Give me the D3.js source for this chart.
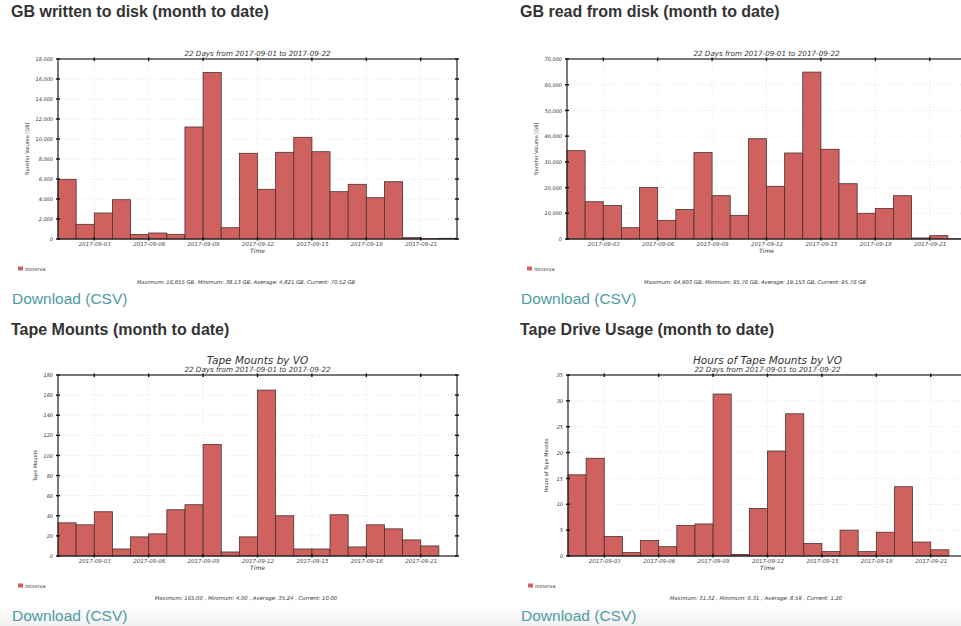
<!doctype html>
<html lang="en">
<head>
  <meta charset="utf-8">
  <title>Storage month to date</title>

<style>
 body{
   margin: 0;
   background-color: #fff;
 }
 .sec-title{
   font-family: "Liberation Sans", Arial, sans-serif;
   font-weight: bold;
   font-size: 16px;
   fill: #333;
 }
 .dl{
   font-family: "Liberation Sans", Arial, sans-serif;
   font-size: 15.5px;
   fill: #4f9ba4;
 }
 .small{
   font-family: "DejaVu Sans", sans-serif;
   fill: #333;
 }
 .y-axis path, .x-axis path{ display: none; }
</style>
</head>
<body>
  <svg id="page" width="961" height="626"></svg>
  <script src="https://d3js.org/d3.v7.min.js"></script>

  <script type="text/javascript">

    var days = ['2017-09-01','2017-09-02','2017-09-03','2017-09-04','2017-09-05','2017-09-06',
                '2017-09-07','2017-09-08','2017-09-09','2017-09-10','2017-09-11','2017-09-12',
                '2017-09-13','2017-09-14','2017-09-15','2017-09-16','2017-09-17','2017-09-18',
                '2017-09-19','2017-09-20','2017-09-21','2017-09-22'];
    var xTickLabels = ['2017-09-03','2017-09-06','2017-09-09','2017-09-12','2017-09-15','2017-09-18','2017-09-21'];

    // GB written to disk, per day
    var writtenGB = [5970, 1470, 2600, 3930, 450, 600, 470, 11200, 16655, 1130, 8570,
                     4970, 8670, 10170, 8730, 4730, 5470, 4130, 5730, 130, 38.13, 70.52];
    // GB read from disk, per day
    var readGB = [34350, 14500, 13000, 4400, 20000, 7260, 11500, 33600, 16850, 9200, 39000,
                  20500, 33450, 64903, 34900, 21500, 10000, 11900, 16850, 400, 1300, 95.76];
    // tape mounts, per day
    var mounts = [33, 31, 44, 7, 19, 22, 46, 51, 111, 4, 19, 165, 40, 7, 7, 41, 9, 31, 27, 16, 10];
    // hours of tape mounts, per day
    var mountHours = [15.7, 18.9, 3.75, 0.7, 3.0, 1.8, 5.9, 6.2, 31.32, 0.31, 9.2, 20.3, 27.5,
                      2.4, 0.85, 5.0, 0.85, 4.6, 13.4, 2.7, 1.2];

    var legendName = 'minerva';
    var subtitle = '22 Days from 2017-09-01 to 2017-09-22';

    var parse = d3.utcParse('%Y-%m-%d');
    var svg = d3.select('#page');

    var panels = [
      { section: 'GB written to disk (month to date)', sx: 11, sy: 17,
        values: writtenGB, yMax: 18000, yStep: 2000, yLabel: 'Transfer Volume [GB]', title: null,
        left: 58, right: 457, top: 59, bottom: 239, ylx: 29,
        stats: 'Maximum: 16,655 GB, Minimum: 38.13 GB, Average: 4,821 GB, Current: 70.52 GB',
        legendY: 269, statsY: 284, dlY: 304 },
      { section: 'GB read from disk (month to date)', sx: 520, sy: 17,
        values: readGB, yMax: 70000, yStep: 10000, yLabel: 'Transfer Volume [GB]', title: null,
        left: 567, right: 966, top: 59, bottom: 239, ylx: 538,
        stats: 'Maximum: 64,903 GB, Minimum: 95.76 GB, Average: 19,153 GB, Current: 95.76 GB',
        legendY: 269, statsY: 284, dlY: 304 },
      { section: 'Tape Mounts (month to date)', sx: 11, sy: 335,
        values: mounts, yMax: 180, yStep: 20, yLabel: 'Tape Mounts', title: 'Tape Mounts by VO',
        left: 58, right: 457, top: 375, bottom: 556, ylx: 37,
        stats: 'Maximum: 165.00 , Minimum: 4.00 , Average: 35.24 , Current: 10.00',
        legendY: 586, statsY: 600, dlY: 621 },
      { section: 'Tape Drive Usage (month to date)', sx: 520, sy: 335,
        values: mountHours, yMax: 35, yStep: 5, yLabel: 'Hours of Tape Mounts', title: 'Hours of Tape Mounts by VO',
        left: 568, right: 967, top: 375, bottom: 556, ylx: 548,
        stats: 'Maximum: 31.32 , Minimum: 0.31 , Average: 8.59 , Current: 1.20',
        legendY: 586, statsY: 600, dlY: 621 }
    ];

    // faint grey band at the very bottom of the page
    var grad = svg.append('defs').append('linearGradient')
      .attr('id', 'fade').attr('x1', 0).attr('x2', 0).attr('y1', 0).attr('y2', 1);
    grad.append('stop').attr('offset', '0%').attr('stop-color', '#fff');
    grad.append('stop').attr('offset', '100%').attr('stop-color', '#f1f1f1');
    svg.append('rect').attr('x', 0).attr('y', 604).attr('width', 961).attr('height', 22)
      .attr('fill', 'url(#fade)');

    panels.forEach(drawPanel);

    function drawPanel(p){
      var g = svg.append('g');
      var h = p.bottom - p.top;
      var w = p.right - p.left;
      var cx = (p.left + p.right) / 2;

      var x = d3.scaleUtc()
        .domain([parse(days[0]), d3.utcDay.offset(parse(days[days.length - 1]), 1)])
        .range([p.left, p.right]);
      var y = d3.scaleLinear().domain([0, p.yMax]).range([p.bottom, p.top]);
      var yTicks = d3.range(0, p.yMax + p.yStep / 2, p.yStep);
      var xTicks = xTickLabels.map(parse);

      // section heading + link
      g.append('text').attr('class', 'sec-title').attr('x', p.sx).attr('y', p.sy).text(p.section);
      g.append('text').attr('class', 'dl').attr('x', p.sx + 1).attr('y', p.dlY).text('Download (CSV)');

      // dotted grid
      g.append('g').selectAll('line.gx').data(xTicks).join('line')
        .attr('x1', d => x(d)).attr('x2', d => x(d)).attr('y1', p.top).attr('y2', p.bottom)
        .attr('stroke', '#d4d4d4').attr('stroke-width', 0.6).attr('stroke-dasharray', '1,2');
      g.append('g').selectAll('line.gy').data(yTicks).join('line')
        .attr('x1', p.left).attr('x2', p.right).attr('y1', d => y(d)).attr('y2', d => y(d))
        .attr('stroke', '#d4d4d4').attr('stroke-width', 0.6).attr('stroke-dasharray', '1,2');

      // bars
      g.append('g').selectAll('rect').data(p.values).join('rect')
        .attr('x', (d, i) => x(parse(days[i])))
        .attr('width', (d, i) => x(d3.utcDay.offset(parse(days[i]), 1)) - x(parse(days[i])))
        .attr('y', d => y(d))
        .attr('height', d => p.bottom - y(d))
        .attr('fill', '#cf625f')
        .attr('stroke', '#4a3232')
        .attr('stroke-width', 0.8);

      // frame
      g.append('rect').attr('x', p.left).attr('y', p.top).attr('width', w).attr('height', h)
        .attr('fill', 'none').attr('stroke', '#222').attr('stroke-width', 1.2);

      // tick marks on all four sides
      var tk = g.append('g').attr('stroke', '#111').attr('stroke-width', 1.4);
      tk.selectAll('line.ty').data(yTicks).join('line')
        .attr('x1', p.left - 2).attr('x2', p.left + 2).attr('y1', d => y(d)).attr('y2', d => y(d));
      tk.selectAll('line.ty2').data(yTicks).join('line')
        .attr('x1', p.right - 2).attr('x2', p.right + 2).attr('y1', d => y(d)).attr('y2', d => y(d));
      tk.selectAll('line.tx').data(xTicks).join('line')
        .attr('x1', d => x(d)).attr('x2', d => x(d)).attr('y1', p.top - 1.5).attr('y2', p.top + 2);
      tk.selectAll('line.tx2').data(xTicks).join('line')
        .attr('x1', d => x(d)).attr('x2', d => x(d)).attr('y1', p.bottom - 2).attr('y2', p.bottom + 1.5);

      // tick labels via axes
      var yaxis = d3.axisLeft(y).tickValues(yTicks).tickSize(0).tickPadding(5)
        .tickFormat(d3.format(','));
      g.append('g').attr('class', 'y-axis').attr('transform', 'translate(' + p.left + ',0)')
        .call(yaxis)
        .call(s => s.selectAll('text').attr('class', 'small').attr('font-size', 5)
          .attr('font-style', 'italic').attr('font-family', '"DejaVu Sans", sans-serif').attr('fill', '#444'));

      var xaxis = d3.axisBottom(x).tickValues(xTicks).tickSize(0).tickPadding(3)
        .tickFormat(d3.utcFormat('%Y-%m-%d'));
      g.append('g').attr('class', 'x-axis').attr('transform', 'translate(0,' + p.bottom + ')')
        .call(xaxis)
        .call(s => s.selectAll('text').attr('font-size', 5.5).attr('font-style', 'italic')
          .attr('font-family', '"DejaVu Sans", sans-serif').attr('fill', '#444'));

      // axis titles
      g.append('text').attr('class', 'small').attr('font-size', 6).attr('font-style', 'italic')
        .attr('text-anchor', 'middle').attr('x', cx).attr('y', p.bottom + 14).attr('fill', '#555')
        .text('Time');
      g.append('text').attr('class', 'small').attr('font-size', 5).attr('fill', '#555')
        .attr('text-anchor', 'middle')
        .attr('transform', 'translate(' + p.ylx + ',' + (p.top + h / 2) + ') rotate(-90)')
        .text(p.yLabel);

      // titles
      if(p.title){
        g.append('text').attr('class', 'small').attr('font-size', 10.5).attr('font-style', 'italic')
          .attr('text-anchor', 'middle').attr('x', cx).attr('y', p.top - 11).attr('fill', '#333')
          .text(p.title);
      }
      g.append('text').attr('class', 'small').attr('font-size', 7.2).attr('font-style', 'italic')
        .attr('text-anchor', 'middle').attr('x', cx).attr('y', p.top - 3).attr('fill', '#444')
        .text(subtitle);

      // legend
      var lx = p.left - 40;
      g.append('rect').attr('x', lx).attr('y', p.legendY - 2.5).attr('width', 5).attr('height', 4)
        .attr('fill', '#cf625f');
      g.append('text').attr('class', 'small').attr('font-size', 5).attr('x', lx + 7).attr('y', p.legendY + 1.5)
        .attr('fill', '#444').text(legendName);

      // stats line
      g.append('text').attr('class', 'small').attr('font-size', 5.3).attr('font-style', 'italic')
        .attr('text-anchor', 'middle').attr('x', p.left + 188).attr('y', p.statsY)
        .attr('fill', '#333').text(p.stats);
    }

  </script>
</body>
</html>
